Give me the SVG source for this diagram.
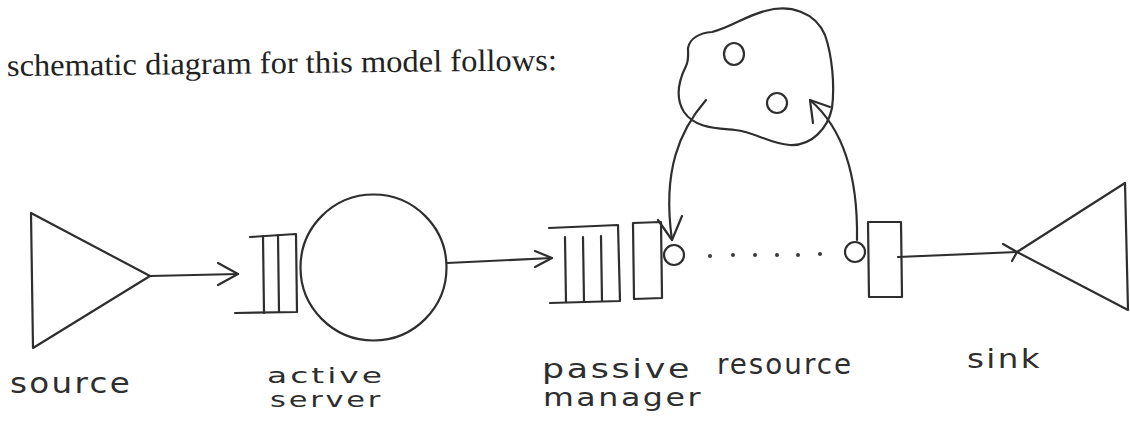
<svg xmlns="http://www.w3.org/2000/svg" width="1130" height="442" viewBox="0 0 1130 442">
<style>
.ln{fill:none;stroke:#2e2e2e;stroke-width:2.2;stroke-linecap:round;stroke-linejoin:round}
.dot{fill:#3a3a3a}
.hand{font-family:"DejaVu Sans","Liberation Sans",sans-serif;font-size:28px;fill:#2e2e2e;letter-spacing:2px}
.title{font-family:"Liberation Serif",serif;font-size:31px;fill:#222}
</style>
<rect width="1130" height="442" fill="#fff"/>
<text class="title" x="7" y="76" transform="rotate(-0.6 7 76)" textLength="550" lengthAdjust="spacingAndGlyphs">schematic diagram for this model follows:</text>

<g id="source">
<path class="ln" d="M31,213 L33,348 L150,276 Z"/>
<text class="hand" x="10" y="393" textLength="122" lengthAdjust="spacingAndGlyphs">source</text>
</g>

<g id="active-server">
<path class="ln" d="M250,237 L296,234 L297,312 L235,313"/>
<path class="ln" d="M263,236 L264,313 M278,235 L279,312"/>
<circle class="ln" cx="373.5" cy="267.5" r="73"/>
<text class="hand" x="267" y="383" style="font-size:22px" textLength="118" lengthAdjust="spacingAndGlyphs">active</text>
<text class="hand" x="270" y="407" style="font-size:22px" textLength="113" lengthAdjust="spacingAndGlyphs">server</text>
</g>

<g id="passive-resource-manager">
<path class="ln" d="M549,228 L618,225 L620,301 L550,303"/>
<path class="ln" d="M565,237 L566,302 M583,237 L584,302 M601,236 L602,301"/>
<path class="ln" d="M633,223 L661,222 L662,298 L634,299 Z"/>
<circle class="ln" cx="674" cy="255" r="10"/>
<circle class="dot" cx="710" cy="256" r="2"/>
<circle class="dot" cx="733" cy="255" r="2"/>
<circle class="dot" cx="755" cy="255" r="2"/>
<circle class="dot" cx="777" cy="255" r="2"/>
<circle class="dot" cx="798" cy="255" r="2"/>
<circle class="dot" cx="820" cy="254" r="2"/>
<circle class="ln" cx="855" cy="252" r="10"/>
<path class="ln" d="M868,222 L901,222 L902,297 L869,297 Z"/>
<text class="hand" x="542" y="378" style="font-size:26px" textLength="150" lengthAdjust="spacingAndGlyphs">passive</text>
<text class="hand" x="717" y="374" textLength="136" lengthAdjust="spacingAndGlyphs">resource</text>
<text class="hand" x="543" y="406" style="font-size:25px" textLength="160" lengthAdjust="spacingAndGlyphs">manager</text>
</g>

<g id="resource-pool">
<path class="ln" d="M688,48 C690,38 700,33 712,32 C730,28 745,16 765,11 C790,4 815,12 825,35 C832,55 835,85 832,108 C828,128 812,146 790,145 C770,144 755,132 735,130 C715,128 695,128 684,112 C674,96 680,78 686,66 C689,60 688,54 688,48 Z"/>
<ellipse class="ln" cx="734" cy="54" rx="10" ry="11"/>
<circle class="ln" cx="777" cy="103" r="10"/>
</g>

<g id="sink">
<path class="ln" d="M1017,252 L1125,183 L1128,310 Z"/>
<text class="hand" x="967" y="368" style="font-size:27px" textLength="75" lengthAdjust="spacingAndGlyphs">sink</text>
</g>

<g id="connectors">
<path class="ln" d="M150,276 L238,274"/>
<path class="ln" d="M218,263 L238,274 L218,285"/>
<path class="ln" d="M447,263 L552,258"/>
<path class="ln" d="M535,251 L552,258 L535,267"/>
<path class="ln" d="M706,100 C680,130 662,170 672,240"/>
<path class="ln" d="M658,220 L672,240 L682,216"/>
<path class="ln" d="M857,240 C858,180 845,130 810,100"/>
<path class="ln" d="M813,123 L810,100 L830,107"/>
<path class="ln" d="M898,257 L1017,252"/>
<path class="ln" d="M1003,244 L1017,252 L1012,261"/>
</g>
</svg>
